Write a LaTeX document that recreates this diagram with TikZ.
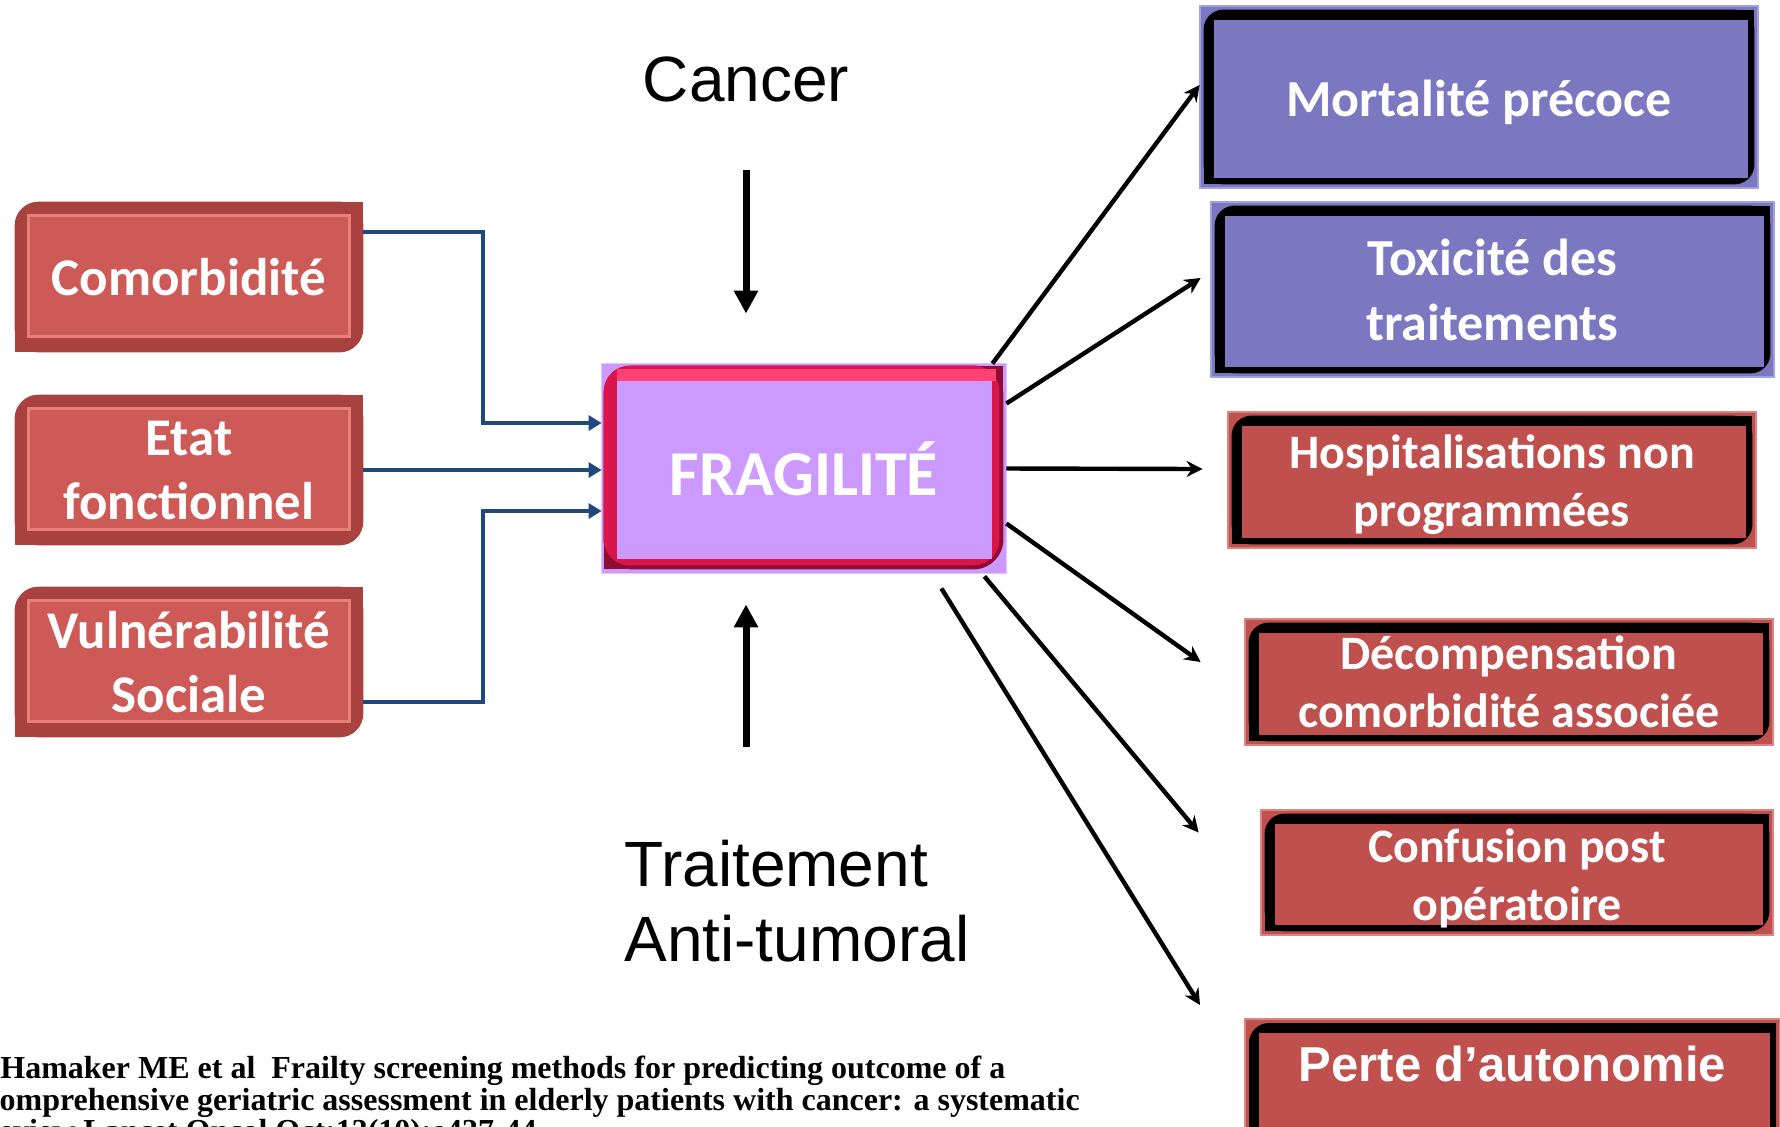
\documentclass[tikz,border=0pt]{standalone}
\usepackage{fontspec}
\setmainfont{Carlito}
\newfontfamily\arialfont{Liberation Sans}
\newfontfamily\timesfont{Liberation Serif}
\usetikzlibrary{positioning,calc,arrows.meta,backgrounds}

\definecolor{leftred}{HTML}{CD5A56}
\definecolor{leftframe}{HTML}{A9423F}
\definecolor{leftlight}{HTML}{E6807B}
\definecolor{rightred}{HTML}{C0504D}
\definecolor{rightedge}{HTML}{D98683}
\definecolor{boxviolet}{HTML}{7B77C1}
\definecolor{violetedge}{HTML}{A3A0E0}
\definecolor{fragfill}{HTML}{CC99FF}
\definecolor{fraghalo}{HTML}{E2C6FF}
\definecolor{fragframe}{HTML}{D91549}
\definecolor{fraglight}{HTML}{FF4273}
\definecolor{fragdark}{HTML}{8E0E33}
\definecolor{linkblue}{HTML}{1F497D}

\tikzset{
  leftbox/.style={text=white, font=\fontsize{26.5}{32}\selectfont\bfseries, align=center,
    inner sep=0pt, minimum width=174pt, minimum height=75pt},
  rightbox/.style={text=white, font=\fontsize{24}{29}\selectfont\bfseries, align=center,
    inner sep=0pt},
  fragbox/.style={text=white, font=\fontsize{32}{38}\selectfont\bfseries, inner sep=0pt,
    minimum width=202pt, minimum height=104.5pt},
  link/.style={draw=linkblue, line width=2pt, -{Triangle[length=6.5pt,width=7.5pt]}},
  outarrow/.style={line width=2.2pt, -{Stealth[length=8pt,width=8pt]}},
  bigarrow/.style={line width=3.5pt, -{Triangle[length=11.5pt,width=11.5pt]}},
}

\begin{document}
\begin{tikzpicture}[x=0.5pt,y=-0.5pt]
\useasboundingbox (0,0) rectangle (1780,1126);

% causes
\node[leftbox] (comorb) at (189,277) {Comorbidité};
\node[leftbox] (etat) at (189,470) {Etat\\fonctionnel};
\node[leftbox] (vulner) at (189,662) {Vulnérabilité\\Sociale};

% centre
\node[fragbox] (frag) at (804,468.5) {FRAGILITÉ};
\node[font=\arialfont\fontsize{32}{38}\selectfont, inner sep=0pt] (cancer) at (746,79) {Cancer};
\node[anchor=north west, align=left, inner sep=0pt,
  font=\arialfont\fontsize{32}{37.5}\selectfont] (traitement) at (624,840) {Traitement\\Anti-tumoral};

% consequences
\node[rightbox, minimum width=279pt, minimum height=91pt, text height=25pt, text depth=5.5pt,
  font=\fontsize{26}{32}\selectfont\bfseries] (mort) at (1479,97) {Mortalité précoce};
\node[rightbox, minimum width=281.5pt, minimum height=87.5pt,
  font=\fontsize{26}{32.5}\selectfont\bfseries] (toxi) at (1492.5,289.5) {Toxicité des\\traitements};
\node[rightbox, minimum width=264pt, minimum height=68pt] (hosp) at (1492,480) {\rule{0pt}{21.5pt}Hospitalisations non\\programmées};
\node[rightbox, minimum width=264pt, minimum height=63pt] (deco) at (1509,682) {Décompensation\\comorbidité associée};
\node[rightbox, minimum width=256pt, minimum height=62.5pt] (conf) at (1517,872.5) {\rule{0pt}{22.5pt}Confusion post\\opératoire};
\node[rightbox, anchor=north west, minimum width=267pt, minimum height=0pt, text height=31pt,
  text depth=40pt, font=\arialfont\bfseries\fontsize{24.5}{29}\selectfont] (perte) at (1245,1019) {Perte d’autonomie};

% reference
\node[anchor=north west, align=left, inner sep=0pt,
  font=\timesfont\bfseries\fontsize{16}{14.5}\selectfont] (biblio) at (-15,1056)
  {\hspace*{7.5pt}Hamaker ME et al~ Frailty screening methods for predicting outcome of a\\
   comprehensive geriatric assessment in elderly patients with cancer: a systematic\\
   review Lancet Oncol Oct;13(10):e437-44.};

% frames
\begin{scope}[on background layer]
  \fill[white] (0,0) rectangle (1780,1126);
  \foreach \n in {comorb,etat,vulner} {
    \fill[leftframe, rounded corners=12pt] (\n.north west) rectangle (\n.south east);
    \fill[leftframe] (\n.north east) rectangle ++(-24,24);
    \fill[leftframe] (\n.south west) rectangle ++(24,-24);
    \fill[leftlight] ([shift={(12,12)}]\n.north west) rectangle ([shift={(-12,-14)}]\n.south east);
    \fill[leftred] ([shift={(15,15)}]\n.north west) rectangle ([shift={(-15,-17)}]\n.south east);
  }
  \fill[fragfill, draw=fraghalo] (frag.north west) rectangle (frag.south east);
  \fill[fragdark, rounded corners=15pt] ([shift={(2,2)}]frag.north west) rectangle ([shift={(-3,-4)}]frag.south east);
  \fill[fragdark] ([shift={(-3,2)}]frag.north east) rectangle ++(-30,30);
  \fill[fragdark] ([shift={(2,-4)}]frag.south west) rectangle ++(30,-30);
  \fill[fragframe, rounded corners=13pt] ([shift={(2,2)}]frag.north west) rectangle ([shift={(-7,-8)}]frag.south east);
  \fill[fraglight] ([shift={(15,5)}]frag.north west) rectangle ([shift={(-10,17)}]frag.north east);
  \fill[fragfill] ([shift={(15,17)}]frag.north west) rectangle ([shift={(-14,-14)}]frag.south east);
  \foreach \n/\c/\e in {mort/boxviolet/violetedge, toxi/boxviolet/violetedge, hosp/rightred/rightedge,
      deco/rightred/rightedge, conf/rightred/rightedge, perte/rightred/rightedge} {
    \fill[\c, draw=\e, line width=1pt] (\n.north west) rectangle (\n.south east);
    \fill[black, rounded corners=10pt] ([shift={(4,4)}]\n.north west) rectangle ([shift={(-4,-4)}]\n.south east);
    \fill[black] ([shift={(-4,4)}]\n.north east) rectangle ++(-20,20);
    \fill[black] ([shift={(4,-4)}]\n.south west) rectangle ++(20,-20);
    \fill[\c] ([shift={(14,14)}]\n.north west) rectangle ([shift={(-10,-10)}]\n.south east);
  }
\end{scope}

% inputs
\coordinate (comorb-port) at ([shift={(0,30)}]comorb.north east);
\coordinate (vulner-port) at ([shift={(0,-35)}]vulner.south east);
\coordinate (frag-in1) at ([shift={(0,-45.5)}]frag.west);
\coordinate (frag-in3) at ([shift={(0,42.5)}]frag.west);
\draw[link] (comorb-port) -| ($(comorb-port)!.5!(frag-in1)$) |- (frag-in1);
\draw[link] (etat.east) -- (etat.east -| frag.west);
\draw[link] (vulner-port) -| ($(vulner-port)!.5!(frag-in3)$) |- (frag-in3);

\draw[bigarrow, shorten <=34pt, shorten >=25pt] (cancer.south) -- (cancer.south |- frag.north);
\draw[bigarrow, shorten <=46.5pt, shorten >=15.5pt] (cancer.south |- traitement.north) -- (cancer.south |- frag.south);

% outputs
\draw[outarrow] ([shift={(-14,0)}]frag.north east) -- ([shift={(0,-12)}]mort.west);
\draw[outarrow] ([shift={(0,-65)}]frag.east) -- ([shift={(-10,-11.5)}]toxi.west);
\draw[outarrow] (frag.east) -- ([shift={(-25,-11)}]hosp.west);
\draw[outarrow] ([shift={(0,55)}]frag.east) -- ([shift={(-44,-20)}]deco.west);
\draw[outarrow] ([shift={(-22,3)}]frag.south east) -- ([shift={(-62,-40)}]conf.west);
\draw[outarrow] ([shift={(-65,15)}]frag.south east) -- ([shift={(-45,-14)}]perte.north west);
\end{tikzpicture}
\end{document}
